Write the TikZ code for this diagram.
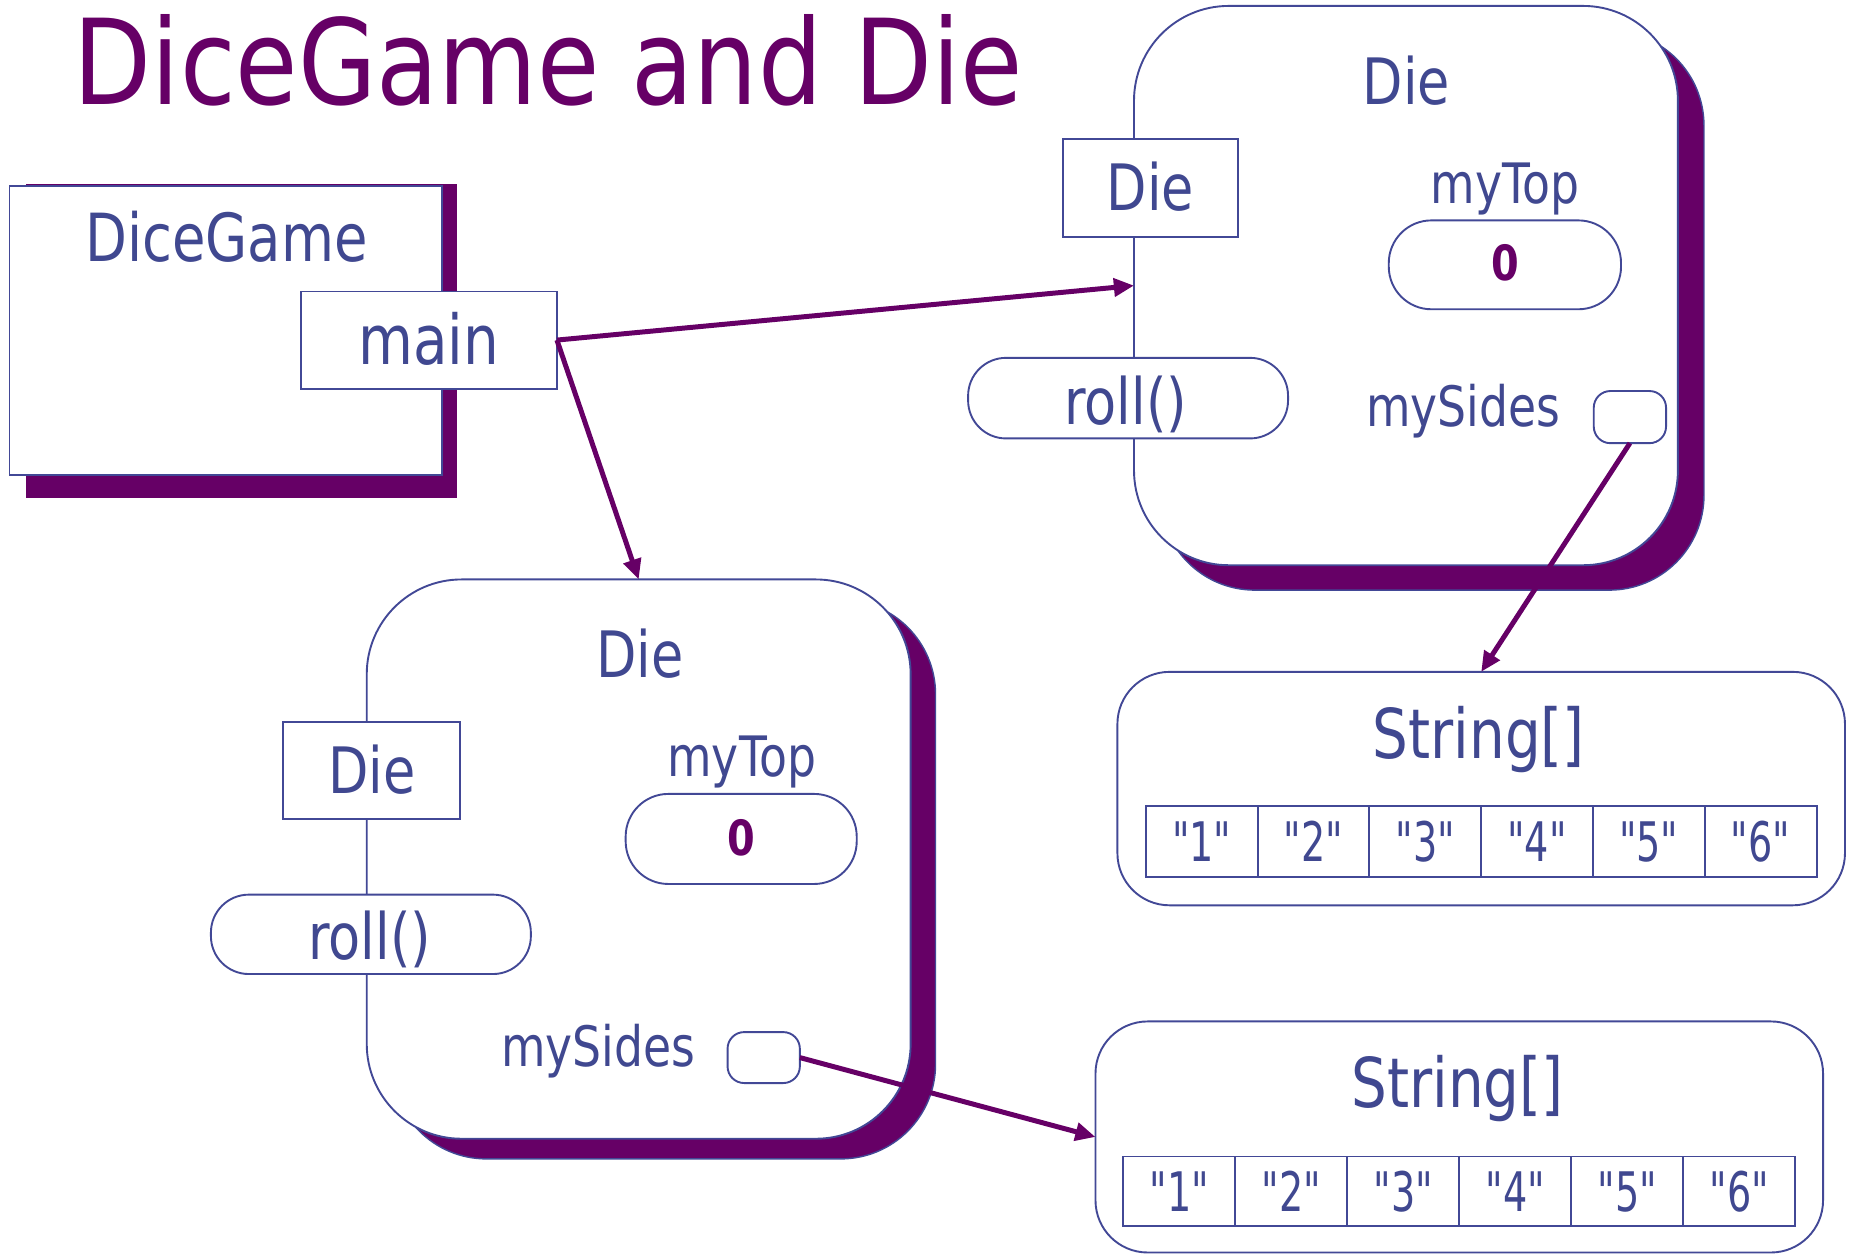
\documentclass[tikz,border=0pt]{standalone}
\usepackage{fontspec}
\setmainfont[FakeStretch=0.82]{DejaVu Sans}
\newfontfamily\titlefont[FakeStretch=0.855]{DejaVu Sans}
\newfontfamily\cellfont[FakeStretch=0.7,Ligatures=TeXOff]{DejaVu Sans}
\usetikzlibrary{arrows.meta}
\definecolor{txtblue}{RGB}{64,72,144}
\definecolor{lnblue}{RGB}{66,72,150}
\definecolor{purp}{RGB}{102,0,102}
\newcommand\fsz[1]{\fontsize{#1}{#1}\selectfont}
\begin{document}
\begin{tikzpicture}[x=0.5pt,y=-0.5pt,
  txt/.style={text=txtblue, inner sep=0pt, anchor=base},
  box/.style={draw=lnblue, line width=0.8pt, fill=white, inner sep=0pt, outer sep=0pt},
  shadowbox/.style={fill=purp, draw=lnblue, line width=0.6pt, inner sep=0pt, outer sep=0pt},
  objbox/.style={box, rounded corners=40pt, minimum width=229.5pt, minimum height=236pt},
  objshadow/.style={shadowbox, rounded corners=40pt, minimum width=229.5pt, minimum height=236pt},
  strbox/.style={box, rounded corners=22pt, minimum width=307pt, minimum height=98.5pt},
  cellbox/.style={box, minimum width=47.2pt, minimum height=30pt},
  conn/.style={draw=purp, line width=2.1pt, -{Triangle[length=8.5pt,width=7.5pt]}}
]
\useasboundingbox (0,0) rectangle (1568,1059);

% title
\node[anchor=base west, inner sep=0pt, text=purp] (title) at (62,88) {\titlefont\fsz{50}DiceGame and Die};

% DiceGame class
\node[shadowbox, draw=none, minimum width=182pt, minimum height=132.5pt] (dgshadow) at (204,287.5) {};
\node[box, minimum width=182.5pt, minimum height=122pt] (dg) at (190.5,279) {};
\node[txt] (dglabel) at (191,221) {\fsz{28}DiceGame};
\node[box, minimum width=108pt, minimum height=41pt] (main) at (362,287) {};
\node[txt] (mainlabel) at (362,308) {\fsz{29}main};

% Die object A (top right)
\node[objshadow] (dieAshadow) at (1208.5,262) {};
\node[objbox] (dieA) at (1186.5,241) {};
\node[txt] (dieAtitle) at (1187,88) {\fsz{27}Die};
\node[box, minimum width=74pt, minimum height=41.5pt] (dieActor) at (971,158.5) {};
\node[txt] at (971,178) {\fsz{27}Die};
\node[box, rounded corners=16pt, minimum width=135pt, minimum height=34pt] (rollA) at (952,336) {};
\node[txt] at (950,358) {\fsz{27}roll()};
\node[txt] (topAlabel) at (1270,172) {\fsz{23.5}myTop};
\node[box, rounded corners=18pt, minimum width=98pt, minimum height=37.5pt] (topA) at (1270,223.5) {};
\node[txt, text=purp] at (1270,237) {\fsz{20.5}\bfseries 0};
\node[txt] (sidesAlabel) at (1235,360) {\fsz{23.5}mySides};
\node[box, rounded corners=7pt, minimum width=30.5pt, minimum height=22pt] (sidesA) at (1375.5,352) {};

% Die object B (bottom left)
\node[objshadow] (dieBshadow) at (560,742) {};
\node[objbox] (dieB) at (539,725) {};
\node[txt] (dieBtitle) at (540,572) {\fsz{27}Die};
\node[box, minimum width=74.5pt, minimum height=41pt] (dieBctor) at (313.5,650) {};
\node[txt] at (314,670) {\fsz{27}Die};
\node[box, rounded corners=16pt, minimum width=135pt, minimum height=33.5pt] (rollB) at (313,788.5) {};
\node[txt] at (312,810) {\fsz{27}roll()};
\node[txt] (topBlabel) at (626,655) {\fsz{23.5}myTop};
\node[box, rounded corners=18pt, minimum width=97.5pt, minimum height=38pt] (topB) at (625.5,708) {};
\node[txt, text=purp] at (625.5,722) {\fsz{20.5}\bfseries 0};
\node[txt] (sidesBlabel) at (505,900) {\fsz{23.5}mySides};
\node[box, rounded corners=7pt, minimum width=30.5pt, minimum height=21.5pt] (sidesB) at (644.5,892.5) {};

% String[] A
\node[strbox] (strA) at (1250,665.5) {};
\node[txt] at (1248,640) {\fsz{29}String[]};
\foreach \i in {1,...,6}{
  \node[cellbox] (cA\i) at ({967+94.33*(\i-0.5)},710) {};
  \node[txt] at ({967+94.33*(\i-0.5)},727) {\cellfont\fsz{23}"\i"};
}

% String[] B
\node[strbox, minimum height=97.5pt] (strB) at (1231.5,959.5) {};
\node[txt] at (1230,935) {\fsz{29}String[]};
\foreach \i in {1,...,6}{
  \node[cellbox, minimum height=29.5pt] (cB\i) at ({948+94.5*(\i-0.5)},1005.5) {};
  \node[txt] at ({948+94.5*(\i-0.5)},1022) {\cellfont\fsz{23}"\i"};
}

% connectors
\draw[conn] (main.east) -- (dieA.west);
\draw[conn] (main.east) -- (dieB.north);
\draw[conn] (sidesA.south) -- (strA.north);
\draw[conn] (sidesB.east) -- (strB.west);
\end{tikzpicture}
\end{document}
